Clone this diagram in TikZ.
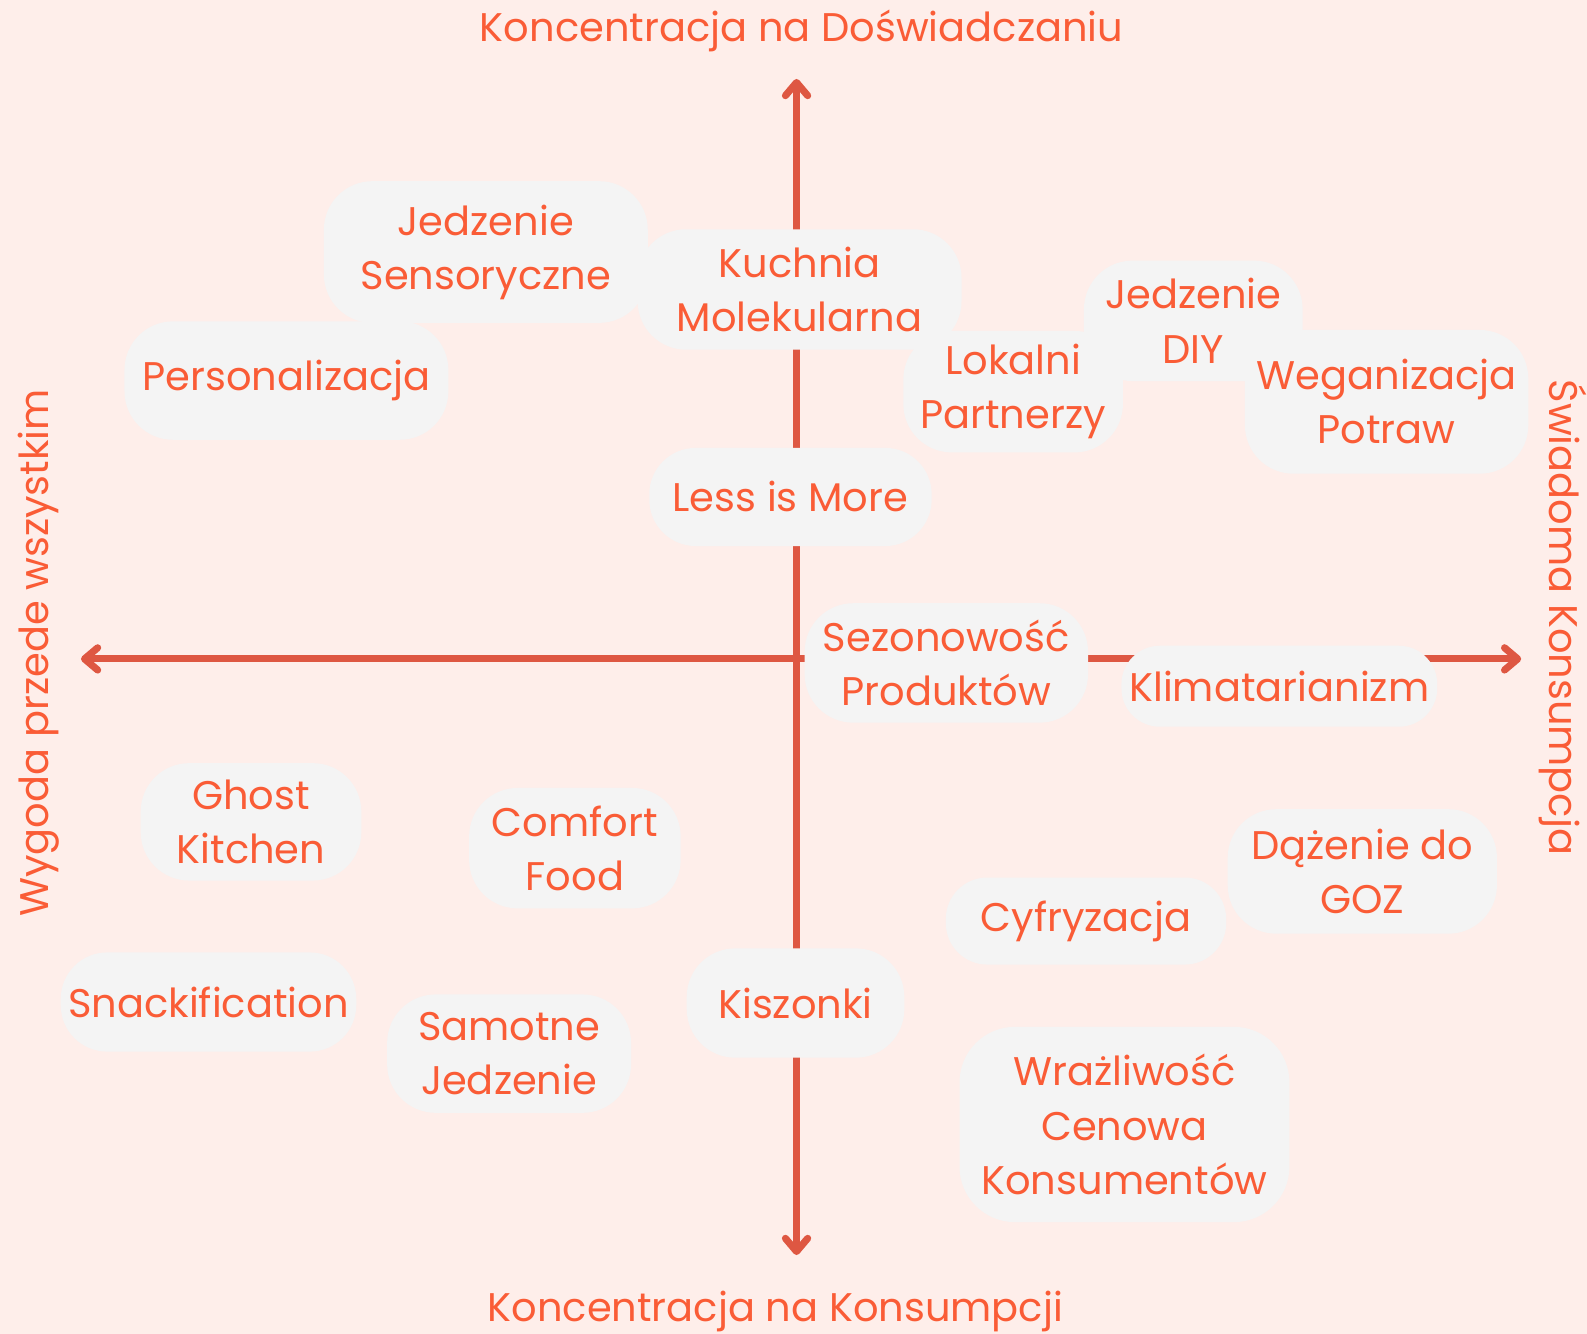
\documentclass[tikz,border=0pt]{standalone}
\usepackage{fontspec}
\setmainfont{Poppins}
\usetikzlibrary{arrows.meta}
\definecolor{bgc}{HTML}{FEEEEA}
\definecolor{pillc}{HTML}{F4F4F4}
\definecolor{txtc}{HTML}{FA5C36}
\definecolor{axisc}{HTML}{DE5742}
\tikzset{
  pill/.style={fill=pillc, text=txtc, align=center, inner sep=0pt, rounded corners=48pt,
    font=\fontsize{39.5}{53.5}\selectfont},
  axlabel/.style={text=txtc, inner sep=0pt, font=\fontsize{39.5}{53.5}\selectfont},
  barb/.tip={Straight Barb[length=13pt,width=22pt,line width=7pt,line cap=round,line join=round]},
  axisline/.style={draw=axisc, line width=7pt, barb-barb}
}
\begin{document}
\begin{tikzpicture}[x=1pt,y=-1pt]
\useasboundingbox (0,0) rectangle (1568,1318);
\fill[bgc] (0,0) rectangle (1568,1318);
% axes
\coordinate (top) at (787,78);
\coordinate (bot) at (787,1240);
\coordinate (lft) at (80,651);
\coordinate (rgt) at (1503,651);
\draw[axisline] (bot) -- (top);
\draw[axisline] (lft) -- (rgt);
% axis labels
\node[axlabel] (ltop) at (792,31) {Koncentracja na Doświadczaniu};
\node[axlabel] (lbot) at (766,1296) {Koncentracja na Konsumpcji};
\node[axlabel, rotate=90] (llft) at (38,645) {Wygoda przede wszystkim};
\node[axlabel, rotate=-90] (lrgt) at (1544,610) {Świadoma Konsumpcja};
% pills
\node[pill, minimum width=320pt, minimum height=140pt] (js) at (480,249) {Jedzenie\\Sensoryczne};
\node[pill, minimum width=320pt, minimum height=119pt] (km) at (790,286) {Kuchnia\\Molekularna};
\node[pill, minimum width=320pt, minimum height=117pt] (pers) at (283,376) {Personalizacja};
\node[pill, minimum width=217pt, minimum height=120pt] (lp) at (1001,387) {Lokalni\\Partnerzy};
\node[pill, minimum width=216pt, minimum height=119pt] (diy) at (1179,317) {Jedzenie\\DIY};
\node[pill, minimum width=280pt, minimum height=142pt] (wp) at (1370,397) {Weganizacja\\Potraw};
\node[pill, minimum width=279pt, minimum height=97pt, rounded corners=46pt] (lim) at (781,491) {Less is More};
\node[pill, minimum width=280pt, minimum height=118pt] (sp) at (935,655) {Sezonowość\\Produktów};
\node[pill, minimum width=312pt, minimum height=80pt, rounded corners=38pt] (kli) at (1264,678) {Klimatarianizm};
\node[pill, minimum width=218pt, minimum height=116pt] (gk) at (248,812) {Ghost\\Kitchen};
\node[pill, minimum width=209pt, minimum height=119pt] (cf) at (568,838) {Comfort\\Food};
\node[pill, minimum width=292pt, minimum height=98pt, rounded corners=46pt] (sn) at (206,990) {Snackification};
\node[pill, minimum width=241pt, minimum height=117pt] (sj) at (503,1041) {Samotne\\Jedzenie};
\node[pill, minimum width=215pt, minimum height=108pt] (ki) at (786,991) {Kiszonki};
\node[pill, minimum width=277pt, minimum height=86pt, rounded corners=41pt] (cy) at (1073,910) {Cyfryzacja};
\node[pill, minimum width=266pt, minimum height=123pt] (dg) at (1346,861) {Dążenie do\\GOZ};
\node[pill, minimum width=326pt, minimum height=193pt, rounded corners=55pt] (wck) at (1111,1111) {Wrażliwość\\Cenowa\\Konsumentów};
\end{tikzpicture}
\end{document}
